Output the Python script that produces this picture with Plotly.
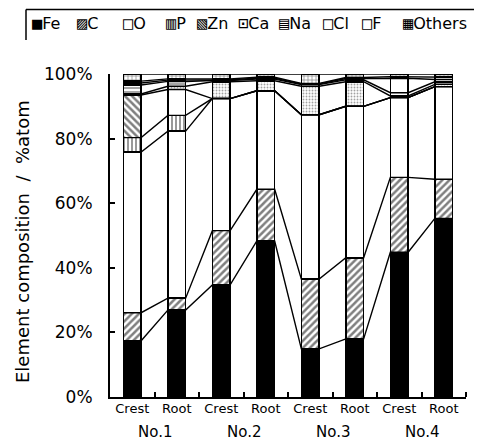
import plotly.graph_objects as go

# ---- data ----
groups = ["No.1", "No.2", "No.3", "No.4"]
positions = ["Crest", "Root"]
elements = ["Fe", "C", "O", "P", "Zn", "Ca", "Na", "Cl", "F", "Others"]
Fe = [17.4, 26.9, 34.7, 48.3, 14.9, 18.0, 44.8, 55.3]
C = [8.7, 3.7, 16.8, 16.0, 21.6, 25.1, 23.2, 12.1]
O = [49.7, 51.7, 40.9, 30.5, 50.9, 46.9, 24.7, 28.7]
P = [4.5, 4.9, 0, 0, 0, 0, 0, 0]
Zn = [13.2, 8.0, 0, 0, 0, 0, 0, 0]
Ca = [0.3, 1.0, 5.2, 3.1, 8.8, 7.6, 0.5, 0.7]
Na = [2.8, 1.5, 0.4, 0.5, 0.5, 0.6, 1.0, 0.8]
Cl = [0.6, 0.4, 0.2, 0.3, 0.2, 0.4, 4.5, 0.7]
F = [0.6, 0.4, 0.3, 0.3, 0.2, 0.3, 0.5, 0.7]
Others = [2.2, 1.5, 1.5, 1.0, 2.9, 1.1, 0.8, 1.0]
y_ticks = [0, 20, 40, 60, 80, 100]
y_ticktext = ["0%", "20%", "40%", "60%", "80%", "100%"]

series = [Fe, C, O, P, Zn, Ca, Na, Cl, F, Others]
labels = [p for g in groups for p in positions]
xs = list(range(len(labels)))

# ---- styles / layout (page body adds an 8px offset) ----
OFF = 8
W, H = 482 - OFF, 441 - OFF
ML, MT = 110 - OFF, 74 - OFF
PLOT_R, PLOT_B = 466 - OFF, 397 - OFF
MR, MB = W - PLOT_R, H - PLOT_B
PW, PH = PLOT_R - ML, PLOT_B - MT
BAR_W = 0.4
FONT = "DejaVu Sans"

n = len(xs)
styles = {
    "Fe": dict(color="black"),
    "C": dict(color="white", pattern=dict(shape="/", fgcolor="black", bgcolor="white", size=5, solidity=0.5)),
    "O": dict(color="white"),
    "P": dict(color="white", pattern=dict(shape="|", fgcolor="black", bgcolor="white", size=4, solidity=0.4)),
    "Zn": dict(color="white", pattern=dict(shape=["\\", "", "\\", "\\", "\\", "\\", "\\", "\\"],
                                           fgcolor="black", bgcolor="white", size=5, solidity=0.5)),
    "Ca": dict(color="white", pattern=dict(shape=".", fgcolor="#444", bgcolor="white", size=3, solidity=0.3)),
    "Na": dict(color="white", pattern=dict(shape="-", fgcolor="black", bgcolor="white", size=4, solidity=0.35)),
    "Cl": dict(color="white"),
    "F": dict(color="white"),
    "Others": dict(color="white", pattern=dict(shape="+", fgcolor="black", bgcolor="white", size=4, solidity=0.3)),
}

fig = go.Figure()
for name, vals in zip(elements, series):
    fig.add_trace(go.Bar(
        x=xs, y=vals, name=name, width=BAR_W, showlegend=False,
        marker=dict(line=dict(color="black", width=1.5), **styles[name]),
    ))

# connecting lines between consecutive bars at each cumulative boundary
cum = [0.0] * n
for vals in series:
    cum = [c + v for c, v in zip(cum, vals)]
    lx, ly = [], []
    for i in xs:
        lx += [i - BAR_W / 2, i + BAR_W / 2]
        ly += [cum[i], cum[i]]
    fig.add_trace(go.Scatter(x=lx, y=ly, mode="lines", showlegend=False,
                             line=dict(color="black", width=1.4), hoverinfo="skip"))

def px_x(p):
    return (p - OFF - ML) / PW

def px_y(p):
    return (PLOT_B - (p - OFF)) / PH

annotations = []
# group labels
for gi, g in enumerate(groups):
    annotations.append(dict(x=gi * 2 + 0.5, xref="x", y=px_y(432), yref="paper", text=g,
                            showarrow=False, font=dict(family=FONT, size=15, color="black"),
                            xanchor="center", yanchor="middle"))
# y title
annotations.append(dict(x=px_x(22), xref="paper", y=px_y(242), yref="paper",
                        text="Element composition  /  %atom", textangle=-90, showarrow=False,
                        font=dict(family=FONT, size=18, color="black"),
                        xanchor="center", yanchor="middle"))
# legend (custom, as text)
symbols = ["■", "▨", "□", "▥", "▧", "⊡", "▤", "□", "□", "▦"]
leg_x = [30, 75, 121, 164, 195, 236, 277, 321, 360, 401]
for sym, name, lx in zip(symbols, elements, leg_x):
    annotations.append(dict(
        x=px_x(lx), xref="paper", y=px_y(23), yref="paper",
        text=f"<span style='font-size:17px;font-family:DejaVu Sans Mono;fill:black;color:black'>{sym}</span>{name}",
        showarrow=False, font=dict(family=FONT, size=16, color="black"),
        xanchor="left", yanchor="middle"))

# legend frame: top and left edges only
shapes = [
    dict(type="line", xref="paper", yref="paper",
         x0=px_x(26), x1=px_x(482), y0=px_y(9.5), y1=px_y(9.5),
         line=dict(color="black", width=1.5)),
    dict(type="line", xref="paper", yref="paper",
         x0=px_x(26), x1=px_x(26), y0=px_y(9.5), y1=px_y(40),
         line=dict(color="black", width=1.5)),
]

fig.update_layout(
    width=W, height=H, margin=dict(l=ML, r=MR, t=MT, b=MB, pad=0, autoexpand=False),
    paper_bgcolor="white", plot_bgcolor="white", barmode="stack",
    annotations=annotations, shapes=shapes,
    font=dict(family=FONT, color="black"),
    xaxis=dict(range=[-0.5, n - 0.5], tickvals=xs, ticktext=labels, ticks="",
               automargin=False, ticklabelstandoff=-2,
               tickfont=dict(size=13, family=FONT, color="black"),
               showline=True, linecolor="black", linewidth=2, showgrid=False, zeroline=False,
               minor=dict(tickvals=[i + 0.5 for i in xs], ticks="inside", ticklen=5,
                          tickwidth=1.5, tickcolor="black", showgrid=False)),
    yaxis=dict(range=[0, 100], tickvals=y_ticks, ticktext=y_ticktext, ticks="inside",
               automargin=False,
               ticklen=5, tickwidth=2, tickcolor="black", ticklabelstandoff=12,
               tickfont=dict(size=17, family=FONT, color="black"),
               showline=True, linecolor="black", linewidth=2, showgrid=False, zeroline=False),
)

fig.write_html("out.html")
